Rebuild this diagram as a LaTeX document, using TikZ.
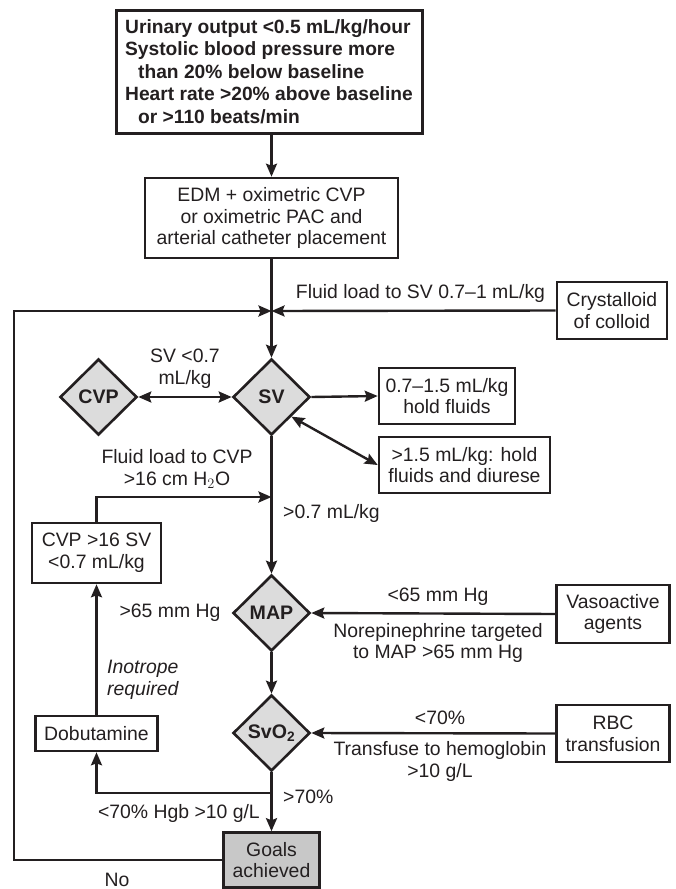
\documentclass[tikz,border=0pt]{standalone}
\usepackage{fontspec}
\setmainfont{Liberation Sans}
\usetikzlibrary{shapes.geometric,arrows.meta,calc}
\definecolor{ink}{HTML}{231F20}
\definecolor{dfill}{HTML}{DCDCDC}
\definecolor{gfill}{HTML}{C8C8C8}
\begin{document}
\begin{tikzpicture}[x=1pt,y=-1pt,
  every node/.style={font=\fontsize{19.4}{21.8}\selectfont, text=ink},
  box/.style={draw=ink, line width=2.6pt, fill=white, align=center, inner sep=2pt},
  dec/.style={draw=ink, line width=2.6pt, fill=dfill, diamond, aspect=1, minimum width=77pt, minimum height=76pt, inner sep=0pt, font=\fontsize{19.6}{21.5}\selectfont\bfseries},
  lbl/.style={inner sep=0pt, align=center},
  conn/.style={draw=ink, line width=2.4pt},
  arr/.style={conn, -{Stealth[length=13pt,width=11pt,inset=2pt]}},
  darr/.style={conn, {Stealth[length=13pt,width=11pt,inset=2pt]}-{Stealth[length=13pt,width=11pt,inset=2pt]}}
]
\useasboundingbox (0,0) rectangle (676,889);

% nodes
\node[box, line width=3pt, align=left, inner sep=0pt, minimum width=306pt, minimum height=123pt,
  font=\fontsize{19.2}{22.4}\selectfont\bfseries] (top) at (269,71.5)
  {Urinary output <0.5 mL/kg/hour\\Systolic blood pressure more\\\hspace*{13pt}than 20\% below baseline\\Heart rate >20\% above baseline\\\hspace*{13pt}or >110 beats/min};
\node[box, minimum width=253pt, minimum height=80pt] (edm) at (271.5,218)
  {EDM + oximetric CVP\\or oximetric PAC and\\arterial catheter placement};
\node[box, minimum width=110pt, minimum height=57pt] (cryst) at (612,310.5) {Crystalloid\\of colloid};
\node[dec] (svd) at (271.5,397) {SV};
\node[dec] (cvpd) at (98.5,397) {CVP};
\node[box, minimum width=136pt, minimum height=56pt] (hold) at (447,396) {0.7--1.5 mL/kg\\hold fluids};
\node[box, minimum width=171pt, minimum height=56pt] (diur) at (464.5,465) {>1.5 mL/kg: hold\\fluids and diurese};
\node[box, minimum width=129pt, minimum height=60pt] (cvp16) at (96.5,553) {CVP >16 SV\\<0.7 mL/kg};
\node[dec] (mapd) at (271.5,613) {MAP};
\node[box, minimum width=113pt, minimum height=58pt] (vaso) at (613,614) {Vasoactive\\agents};
\node[dec] (svo2) at (271.5,733) {SvO$_\mathbf{2}$};
\node[box, minimum width=122pt, minimum height=35pt] (dobu) at (96.5,733.5) {Dobutamine};
\node[box, minimum width=113pt, minimum height=57pt] (rbc) at (613,733.5) {RBC\\transfusion};
\node[box, fill=gfill, minimum width=96pt, minimum height=55pt] (goals) at (271.5,860) {Goals\\achieved};

% junctions
\coordinate (j1) at (271.5,311);
\coordinate (j2) at (271.5,497);
\coordinate (j3) at (271.5,793);
\coordinate (lb) at (14,860);
\coordinate (lt) at (14,311);

% connectors
\draw[arr] (top.south -| edm.north) -- (edm.north);
\draw[arr] (edm.south) -- (svd.north);
\draw[arr] (goals.west) -- (lb) -- (lt) -- (j1);
\draw[arr] (cryst.west) -- (j1);
\draw[darr] (cvpd.east) -- (svd.west);
\draw[arr] (svd.east) -- (hold.west);
\draw[darr] (svd.south east) -- (diur.west);
\draw[arr] (svd.south) -- (mapd.north);
\draw[arr] (cvp16.north) -- (cvp16.north |- j2) -- (j2);
\draw[arr] (dobu.north) -- (cvp16.south);
\draw[arr] (vaso.west) -- (mapd.east);
\draw[arr] (mapd.south) -- (svo2.north);
\draw[arr] (rbc.west) -- (svo2.east);
\draw[arr] (svo2.south) -- (goals.north);
\draw[arr] (j3) -- (j3 -| dobu.south) -- (dobu.south);

% labels
\node[lbl] (l1) at (420.5,293) {Fluid load to SV 0.7--1 mL/kg};
\node[lbl] (l2) at (185,369) {SV <0.7\\mL/kg};
\node[lbl] (l3) at (177,469) {Fluid load to CVP\\>16 cm H$_2$O};
\node[lbl, anchor=west] (l4) at (283,513) {>0.7 mL/kg};
\node[lbl] (l5) at (170,613) {>65 mm Hg};
\node[lbl] (l6) at (438,597) {<65 mm Hg};
\node[lbl] (l7) at (438,643) {Norepinephrine targeted\\to MAP >65 mm Hg};
\node[lbl, align=left, anchor=west, font=\fontsize{19.4}{21.8}\selectfont\itshape] (l8) at (107,679.5) {Inotrope\\required};
\node[lbl] (l9) at (440,718) {<70\%};
\node[lbl] (l10) at (440,761.5) {Transfuse to hemoglobin\\>10 g/L};
\node[lbl, anchor=east] (l11) at (260,813) {<70\% Hgb >10 g/L};
\node[lbl, anchor=west] (l12) at (283,797) {>70\%};
\node[lbl] (l13) at (117,880) {No};
\end{tikzpicture}
\end{document}
